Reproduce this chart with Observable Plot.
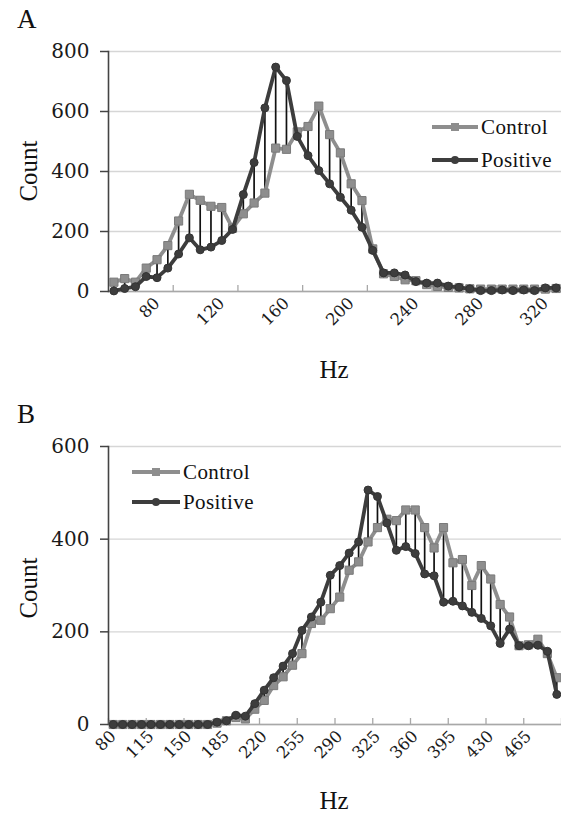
<!DOCTYPE html>
<html><head><meta charset="utf-8">
<script src="https://cdn.jsdelivr.net/npm/d3@7"></script>
<script src="https://cdn.jsdelivr.net/npm/@observablehq/plot@0.6"></script>
<style>
body{margin:0;background:#fff;}
#wrap{position:relative;width:561px;height:819px;overflow:hidden;}
#wrap > svg.plot{display:block;}
#overlay{position:absolute;left:0;top:0;pointer-events:none;}
</style></head><body><div id="wrap"></div>
<script>
// ---------- Panel A data ----------
const hzA = [53.33, 60, 66.67, 73.33, 80, 86.67, 93.33, 100, 106.67, 113.33,
  120, 126.67, 133.33, 140, 146.67, 153.33, 160, 166.67, 173.33, 180,
  186.67, 193.33, 200, 206.67, 213.33, 220, 226.67, 233.33, 240, 246.67,
  253.33, 260, 266.67, 273.33, 280, 286.67, 293.33, 300, 306.67, 313.33,
  320, 326.67];
const controlA = [31, 43, 31, 78, 106, 153, 235, 324, 304, 284,
  280, 211, 259, 295, 328, 478, 474, 532, 550, 618,
  523, 462, 359, 303, 142, 59, 50, 39, 36, 23,
  17, 14, 12, 9, 8, 8, 8, 8, 8, 8,
  8, 10];
const positiveA = [2, 10, 16, 50, 46, 78, 125, 179, 139, 148,
  170, 207, 323, 430, 612, 748, 703, 517, 453, 403,
  359, 314, 271, 214, 137, 62, 62, 55, 33, 28,
  28, 18, 14, 9, 3, 3, 5, 3, 5, 3,
  12, 12];
const xLabelsA = [80, 120, 160, 200, 240, 280, 320];
const xTickMarksA = [90, 130, 170, 210, 250, 290, 330];
const yTicksA = [0, 200, 400, 600, 800];

// ---------- Panel B data ----------
const hzB = [80, 88.75, 97.5, 106.25, 115, 123.75, 132.5, 141.25, 150, 158.75,
  167.5, 176.25, 185, 193.75, 202.5, 211.25, 220, 228.75, 237.5, 246.25,
  255, 263.75, 272.5, 281.25, 290, 298.75, 307.5, 316.25, 325, 333.75,
  342.5, 351.25, 360, 368.75, 377.5, 386.25, 395, 403.75, 412.5, 421.25,
  430, 438.75, 447.5, 456.25, 465, 473.75, 482.5, 491.25];
const controlB = [0, 0, 0, 0, 0, 0, 0, 0, 0, 0,
  0, 3, 8, 15, 12, 33, 52, 84, 103, 128,
  153, 218, 225, 250, 275, 333, 351, 394, 425, 443,
  440, 463, 463, 425, 381, 425, 349, 356, 300, 343,
  314, 259, 232, 170, 172, 184, 153, 101];
const positiveB = [0, 0, 0, 0, 0, 0, 0, 0, 0, 0,
  0, 5, 8, 20, 18, 45, 74, 101, 126, 153,
  203, 232, 264, 322, 343, 370, 394, 506, 492, 435,
  376, 384, 369, 325, 321, 264, 266, 256, 242, 229,
  213, 175, 206, 170, 170, 171, 158, 65];
const xLabelsB = [80, 115, 150, 185, 220, 255, 290, 325, 360, 395, 430, 465];
const xTickMarksB = [75.625, 110.625, 145.625, 180.625, 215.625, 250.625, 285.625, 320.625, 355.625, 390.625, 425.625, 460.625, 495.625];
const yTicksB = [0, 200, 400, 600];

const seriesNames = ["Control", "Positive"];
const grayC = "#8e8e8e", darkC = "#3d3d3d";
const tickFont = "'DejaVu Serif', serif";

function panel({hz, control, positive, xDomain, yMax, yTicks, xLabels, xTickMarks, height, marginTop, marginBottom}) {
  const rows = hz.map((h, i) => ({hz: h, control: control[i], positive: positive[i]}));
  return Plot.plot({
    width: 561, height, marginLeft: 108, marginRight: 0, marginTop, marginBottom,
    style: {background: "transparent", overflow: "visible"},
    x: {type: "linear", domain: xDomain},
    y: {domain: [0, yMax]},
    marks: [
      Plot.gridY(yTicks, {stroke: "#d6d6d6", strokeOpacity: 1, strokeWidth: 1.4}),
      Plot.ruleY([0], {stroke: "#a8a8a8", strokeWidth: 1.6}),
      Plot.axisX(xTickMarks, {tickSize: -6, tickFormat: () => "", stroke: "#a8a8a8", strokeWidth: 1.3, label: null}),
      Plot.axisX(xLabels, {tickSize: 0, tickRotate: -45, tickPadding: 9, fontSize: 16.5, fontFamily: tickFont, fill: "#1a1a1a", label: null}),
      Plot.axisY(yTicks, {tickSize: 8, tickPadding: 11, fontSize: 20, fontFamily: tickFont, fill: "#1a1a1a", stroke: "#444", strokeWidth: 1.5, label: null}),
      Plot.frame({anchor: "left", stroke: "#444", strokeWidth: 1.6}),
      Plot.ruleX(rows, {x: "hz", y1: "control", y2: "positive", stroke: "#111", strokeWidth: 1.7}),
      Plot.line(rows, {x: "hz", y: "control", stroke: grayC, strokeWidth: 3.8}),
      Plot.dot(rows, {x: "hz", y: "control", symbol: "square", r: 4.6, fill: grayC, stroke: "#7a7a7a", strokeWidth: 1}),
      Plot.line(rows, {x: "hz", y: "positive", stroke: darkC, strokeWidth: 3.8}),
      Plot.dot(rows, {x: "hz", y: "positive", symbol: "circle", r: 4, fill: darkC, stroke: "#333", strokeWidth: 1})
    ]
  });
}

const wrap = document.getElementById("wrap");
wrap.append(panel({hz: hzA, control: controlA, positive: positiveA, xDomain: [50, 330], yMax: 800, yTicks: yTicksA,
  xLabels: xLabelsA, xTickMarks: xTickMarksA, height: 390, marginTop: 51, marginBottom: 99}));
wrap.append(panel({hz: hzB, control: controlB, positive: positiveB, xDomain: [75.625, 495.625], yMax: 600, yTicks: yTicksB,
  xLabels: xLabelsB, xTickMarks: xTickMarksB, height: 429, marginTop: 56, marginBottom: 95}));

// ---------- overlay: panel letters, axis titles, legends ----------
const ns = "http://www.w3.org/2000/svg";
const ov = document.createElementNS(ns, "svg");
ov.setAttribute("id", "overlay");
ov.setAttribute("width", 561); ov.setAttribute("height", 819);
wrap.append(ov);
function txt(s, x, y, size, extra = {}) {
  const t = document.createElementNS(ns, "text");
  t.textContent = s;
  t.setAttribute("x", x); t.setAttribute("y", y);
  t.setAttribute("font-family", "'Liberation Serif', 'Times New Roman', serif");
  t.setAttribute("font-size", size);
  t.setAttribute("fill", "#111");
  for (const k in extra) t.setAttribute(k, extra[k]);
  ov.append(t);
  return t;
}
txt("A", 17, 28, 27);
txt("B", 17, 423, 27);
txt("Count", 0, 0, 25, {"text-anchor": "middle", transform: "translate(37,171) rotate(-90)"});
txt("Count", 0, 0, 25, {"text-anchor": "middle", transform: "translate(37,588) rotate(-90)"});
txt("Hz", 334, 378, 25, {"text-anchor": "middle"});
txt("Hz", 334, 809, 25, {"text-anchor": "middle"});

function legendItem(x0, x1, y, name, color, symbol) {
  const l = document.createElementNS(ns, "line");
  l.setAttribute("x1", x0); l.setAttribute("x2", x1); l.setAttribute("y1", y); l.setAttribute("y2", y);
  l.setAttribute("stroke", color); l.setAttribute("stroke-width", 3.8);
  ov.append(l);
  const cx = (x0 + x1) / 2;
  let m;
  if (symbol === "square") {
    m = document.createElementNS(ns, "rect");
    m.setAttribute("x", cx - 4); m.setAttribute("y", y - 4);
    m.setAttribute("width", 8); m.setAttribute("height", 8);
  } else {
    m = document.createElementNS(ns, "circle");
    m.setAttribute("cx", cx); m.setAttribute("cy", y); m.setAttribute("r", 4);
  }
  m.setAttribute("fill", color);
  ov.append(m);
  txt(name, x1 + 3, y + 7, 21, {"letter-spacing": "0.4"});
}
legendItem(432, 478, 127, seriesNames[0], grayC, "square");
legendItem(432, 478, 160, seriesNames[1], darkC, "circle");
legendItem(132, 180, 472, seriesNames[0], grayC, "square");
legendItem(132, 180, 502, seriesNames[1], darkC, "circle");
</script></body></html>
